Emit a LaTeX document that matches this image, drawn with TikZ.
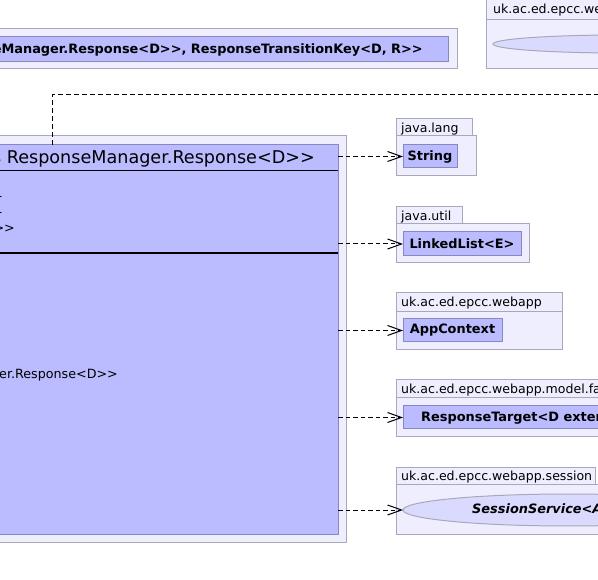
\documentclass[tikz,border=0pt]{standalone}
\usepackage{fontspec}
\setmainfont{DejaVu Sans}[Ligatures=TeXOff]
\usetikzlibrary{arrows.meta,shapes.geometric}
\definecolor{pkgfill}{RGB}{238,238,255}
\definecolor{pkgdraw}{RGB}{168,168,186}
\definecolor{clsfill}{RGB}{187,187,255}
\definecolor{clsdraw}{RGB}{136,136,190}
\definecolor{iffill}{RGB}{218,218,255}
\begin{document}
\begin{tikzpicture}[x=1pt,y=-1pt,
  pkg/.style={rectangle,draw=pkgdraw,fill=pkgfill,line width=1pt,inner sep=0pt,outer sep=0pt,anchor=north west},
  cls/.style={rectangle,draw=clsdraw,fill=clsfill,line width=1pt,inner sep=0pt,outer sep=0pt,anchor=north west,font=\fontsize{12.9}{15}\selectfont\bfseries},
  iface/.style={ellipse,draw=pkgdraw,fill=iffill,line width=1pt,inner sep=0pt,outer sep=0pt},
  lbl/.style={font=\fontsize{12.55}{15}\selectfont,anchor=base west,inner sep=0pt},
  txt/.style={font=\fontsize{12.7}{15}\selectfont,anchor=base east,inner sep=0pt},
  dep/.style={draw=black,line width=1pt,dash pattern=on 4.5pt off 3pt,-{Straight Barb[length=14pt,width=10pt]}},
  depline/.style={draw=black,line width=1pt,dash pattern=on 5pt off 3pt},
]
\useasboundingbox (0,0) rectangle (598,580);
\clip (0,0) rectangle (598,580);
\fill[white] (0,0) rectangle (598,580);

% top box
\node[pkg,minimum width=557pt,minimum height=40pt] (topouter) at (-100,29) {};
\node[cls,minimum width=548pt,minimum height=25pt] (topinner) at (-100,37) {};
\node[font=\fontsize{12.9}{15}\selectfont\bfseries,anchor=base east,inner sep=0pt] (toptxt) at (423,54) {ResponseManager.Response<D>>, ResponseTransitionKey<D, R>>};

% top right package
\node[pkg,minimum width=200pt,minimum height=25pt] (trtab) at (486,-5) {};
\node[pkg,minimum width=200pt,minimum height=49pt] (trbody) at (486,20) {};
\node[lbl] (trlbl) at (493,14) {uk.ac.ed.epcc.webapp};
\node[iface,minimum width=254pt,minimum height=18pt] (trsvc) at (620,44) {};

% main class
\node[pkg,minimum width=446pt,minimum height=406pt] (rtmouter) at (-100,136) {};
\node[cls,minimum width=438pt,minimum height=389pt] (rtm) at (-100,145) {};
\node[font=\fontsize{17.6}{20}\selectfont,anchor=base east,inner sep=0pt] (rtmtitle) at (315,164) {R extends ResponseManager.Response<D>>};
\draw[line width=1pt] (-100,171) -- (rtm.east |- 0,171);
\draw[line width=2pt] (-100,253) -- (rtm.east |- 0,253);
\node[txt] (f1) at (2.5,201) {-};
\node[txt] (f2) at (2.5,217) {-};
\node[txt] (f3) at (15,233) {ResponseTarget<D, R>>};
\node[txt] (m1) at (118,379) {ResponseManager.Response<D>>};

% java.lang
\node[pkg,minimum width=76pt,minimum height=17pt] (jltab) at (396,119) {};
\node[pkg,minimum width=80pt,minimum height=40pt] (jlbody) at (396,136) {};
\node[lbl] (jllbl) at (401,133) {java.lang};
\node[cls,minimum width=54pt,minimum height=23pt] (string) at (403,145) {String};

% java.util
\node[pkg,minimum width=66pt,minimum height=17pt] (jutab) at (396,207) {};
\node[pkg,minimum width=133pt,minimum height=39pt] (jubody) at (396,224) {};
\node[lbl] (julbl) at (401,221) {java.util};
\node[cls,minimum width=118pt,minimum height=24pt] (llist) at (403,232) {LinkedList<E>};

% webapp
\node[pkg,minimum width=166pt,minimum height=19pt] (watab) at (396,293) {};
\node[pkg,minimum width=166pt,minimum height=38pt] (wabody) at (396,312) {};
\node[lbl] (walbl) at (401,307) {uk.ac.ed.epcc.webapp};
\node[cls,minimum width=99pt,minimum height=23pt] (appctx) at (403,319) {AppContext};

% model.factory
\node[pkg,minimum width=300pt,minimum height=18pt] (mftab) at (396,380) {};
\node[pkg,minimum width=300pt,minimum height=39pt] (mfbody) at (396,398) {};
\node[lbl] (mflbl) at (401,394) {uk.ac.ed.epcc.webapp.model.factory};
\node[cls,minimum width=300pt,minimum height=23pt] (rtarget) at (403,406) {};
\node[lbl,font=\fontsize{12.9}{15}\selectfont\bfseries] (rtargettxt) at (421,422) {ResponseTarget<D extends};

% session
\node[pkg,minimum width=199pt,minimum height=17pt] (sstab) at (396,468) {};
\node[pkg,minimum width=250pt,minimum height=49pt] (ssbody) at (396,485) {};
\node[lbl] (sslbl) at (401,481) {uk.ac.ed.epcc.webapp.session};
\node[iface,minimum width=330pt,minimum height=32pt] (ssvc) at (568,510) {};
\node[lbl,font=\fontsize{12.9}{15}\selectfont\bfseries\itshape] (ssvctxt) at (472,514) {SessionService<A extends};

% connectors
\draw[dep] (string.west -| rtm.east) -- (string.west);
\draw[dep] (llist.west -| rtm.east) -- (llist.west);
\draw[dep] (appctx.west -| rtm.east) -- (appctx.west);
\draw[dep] (rtarget.west -| rtm.east) -- (rtarget.west);
\draw[dep] (ssvc.west -| rtm.east) -- (ssvc.west);
\coordinate (turn) at (52,95);
\coordinate (offr) at (660,95);
\draw[depline] (rtm.north -| turn) -- (turn) -- (offr);
\end{tikzpicture}
\end{document}
